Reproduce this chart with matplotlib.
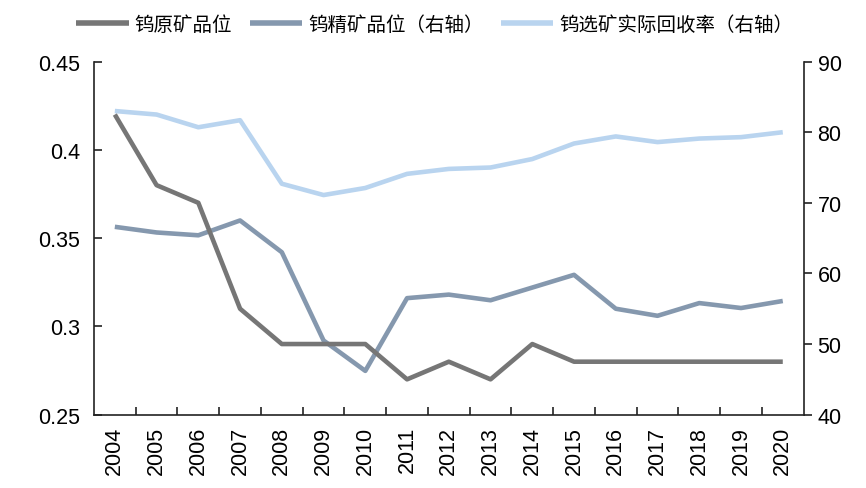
import matplotlib
matplotlib.use("Agg")
import matplotlib.pyplot as plt
from matplotlib.ticker import FixedLocator, NullFormatter

years = [str(y) for y in range(2004, 2021)]
ore_grade = [0.42, 0.38, 0.37, 0.31, 0.29, 0.29, 0.29, 0.27, 0.28, 0.27,
             0.29, 0.28, 0.28, 0.28, 0.28, 0.28, 0.28]
conc_grade = [66.6, 65.8, 65.4, 67.5, 63.0, 50.5, 46.2, 56.5, 57.0, 56.2,
              58.0, 59.8, 55.0, 54.0, 55.8, 55.1, 56.1]
recovery = [83.0, 82.5, 80.7, 81.7, 72.7, 71.1, 72.1, 74.1, 74.8, 75.0,
            76.2, 78.4, 79.4, 78.6, 79.1, 79.3, 80.0]
labels = ["钨原矿品位", "钨精矿品位（右轴）", "钨选矿实际回收率（右轴）"]
left_ticks = [0.25, 0.3, 0.35, 0.4, 0.45]
left_ticklabels = ["0.25", "0.3", "0.35", "0.4", "0.45"]
right_ticks = [40, 50, 60, 70, 80, 90]

c_gray = "#767676"
c_steel = "#8598ae"
c_light = "#b9d4ef"

plt.rcParams['font.family'] = ['Liberation Sans', 'DejaVu Sans']
fig = plt.figure(figsize=(8.66, 4.89), dpi=100)
ax = fig.add_axes([0.1085, 0.150, 0.8195, 0.722])
ax2 = ax.twinx()

x = list(range(len(years)))
l1, = ax.plot(x, ore_grade, color=c_gray, lw=3.3, solid_capstyle='butt', zorder=3)
l2, = ax2.plot(x, conc_grade, color=c_steel, lw=3.3, solid_capstyle='butt')
l3, = ax2.plot(x, recovery, color=c_light, lw=3.3, solid_capstyle='butt')
ax.set_zorder(ax2.get_zorder() + 1)
ax.patch.set_visible(False)

ax.set_xlim(-0.5, len(years) - 0.5)
ax.set_ylim(0.25, 0.45)
ax2.set_ylim(40, 90)
ax.set_yticks(left_ticks)
ax.set_yticklabels(left_ticklabels)
ax2.set_yticks(right_ticks)

ax.set_xticks(x)
ax.set_xticklabels(years, rotation=90)
ax.xaxis.set_minor_locator(FixedLocator([i + 0.5 for i in range(len(years) - 1)]))
ax.xaxis.set_minor_formatter(NullFormatter())
ax.tick_params(axis='x', which='major', length=0, labelsize=15.5, pad=8)
ax.tick_params(axis='x', which='minor', direction='in', length=6, width=1.2, color='#222222')
ax.tick_params(axis='y', direction='in', length=6, width=1.2, labelsize=15.5, pad=10, color='#222222')
ax2.tick_params(axis='y', direction='out', length=6, width=1.2, labelsize=15.5, pad=4, color='#222222')

for a in (ax, ax2):
    a.spines['top'].set_visible(False)
    for s in ('left', 'right', 'bottom'):
        a.spines[s].set_linewidth(1.2)
        a.spines[s].set_color('#222222')
ax.spines['right'].set_visible(False)
ax2.spines['left'].set_visible(False)
ax2.spines['bottom'].set_visible(False)

leg = fig.legend([l1, l2, l3], labels, loc='upper center', bbox_to_anchor=(0.502, 1.005),
                 ncol=3, frameon=False, handlelength=2.7, handletextpad=0.3,
                 columnspacing=0.9, prop={'family': ['Noto Sans CJK SC', 'DejaVu Sans'], 'size': 14})
for h in leg.legend_handles:
    h.set_linewidth(4.0)

fig.savefig("out.png", dpi=100)
